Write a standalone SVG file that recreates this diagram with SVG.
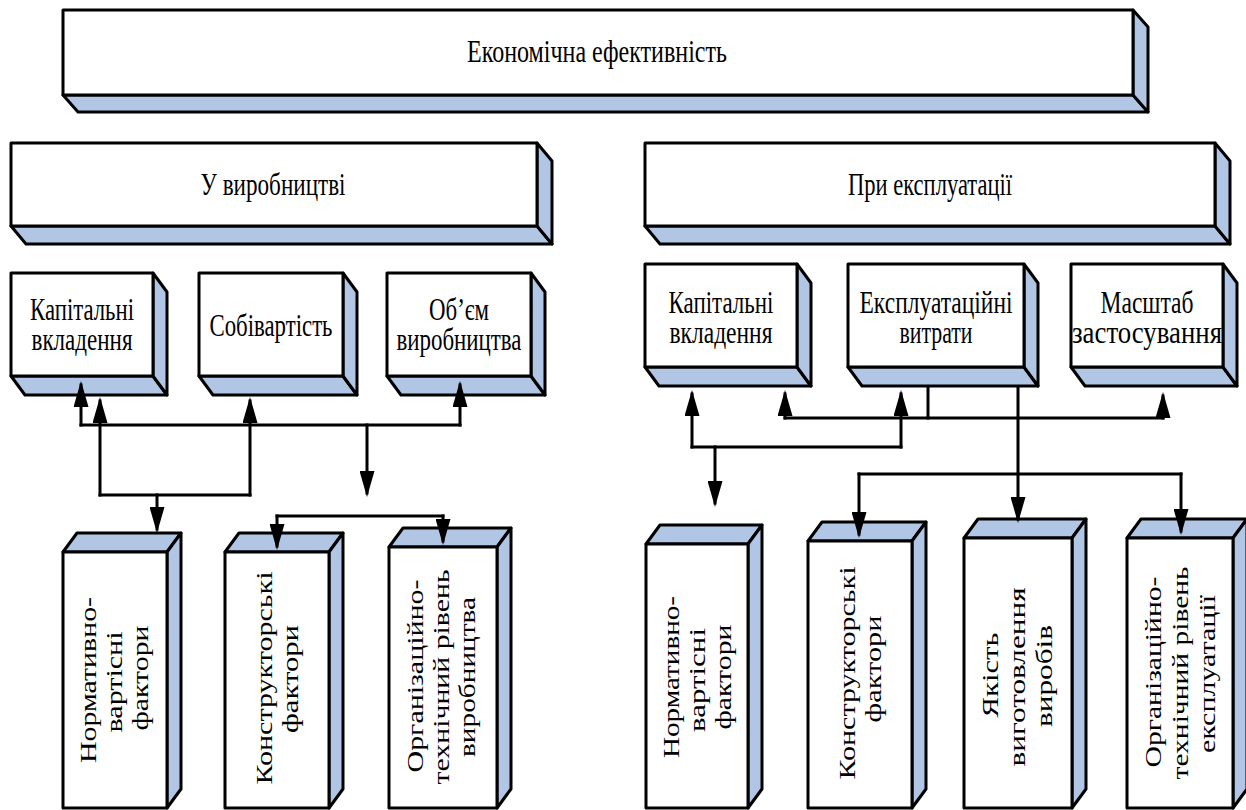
<svg xmlns="http://www.w3.org/2000/svg" width="1246" height="810" viewBox="0 0 1246 810">
<style>
.f{fill:#fff;stroke:#000;stroke-width:3;stroke-linejoin:round}
.s{fill:#b0c6e4;stroke:#000;stroke-width:3;stroke-linejoin:round}
.t{font-family:"Liberation Serif","Times New Roman",serif;font-size:31px;text-anchor:middle;fill:#000}
.r{font-size:24px}
.c{fill:none;stroke:#000;stroke-width:3;stroke-linecap:square}
.a{marker-end:url(#ah)}
</style>
<defs>
<marker id="ah" viewBox="0 0 26 15" refX="22" refY="7.5" markerWidth="26" markerHeight="15" markerUnits="userSpaceOnUse" orient="auto">
<path d="M0,0 L26,7.5 L0,15 Z" fill="#000"/>
</marker>
</defs>
<rect width="1246" height="810" fill="#fff"/>

<g id="top">
<polygon class="s" points="63,95 1133,95 1148,112 78,112"/>
<polygon class="s" points="1133,10 1148,27 1148,112 1133,95"/>
<rect class="f" x="63" y="10" width="1070" height="85"/>
<text class="t" x="597" y="62" textLength="260" lengthAdjust="spacingAndGlyphs">Економічна ефективність</text>
</g>

<g id="prod">
<polygon class="s" points="11,226 537,226 552,244 26,244"/>
<polygon class="s" points="537,143 552,161 552,244 537,226"/>
<rect class="f" x="11" y="143" width="526" height="83"/>
<text class="t" x="273" y="195" textLength="145" lengthAdjust="spacingAndGlyphs">У виробництві</text>
</g>

<g id="expl">
<polygon class="s" points="645,226 1215,226 1230,244 660,244"/>
<polygon class="s" points="1215,143 1230,161 1230,244 1215,226"/>
<rect class="f" x="645" y="143" width="570" height="83"/>
<text class="t" x="930" y="195" textLength="164" lengthAdjust="spacingAndGlyphs">При експлуатації</text>
</g>

<g id="l-cap">
<polygon class="s" points="11,376 153,376 167,395 25,395"/>
<polygon class="s" points="153,273 167,292 167,395 153,376"/>
<rect class="f" x="11" y="273" width="142" height="103"/>
<text class="t" x="82" y="320" textLength="104" lengthAdjust="spacingAndGlyphs">Капітальні</text>
<text class="t" x="82" y="350" textLength="101" lengthAdjust="spacingAndGlyphs">вкладення</text>
</g>

<g id="l-cost">
<polygon class="s" points="199,376 343,376 357,395 213,395"/>
<polygon class="s" points="343,273 357,292 357,395 343,376"/>
<rect class="f" x="199" y="273" width="144" height="103"/>
<text class="t" x="271" y="336" textLength="123" lengthAdjust="spacingAndGlyphs">Собівартість</text>
</g>

<g id="l-vol">
<polygon class="s" points="387,376 531,376 545,395 401,395"/>
<polygon class="s" points="531,273 545,292 545,395 531,376"/>
<rect class="f" x="387" y="273" width="144" height="103"/>
<text class="t" x="459" y="320" textLength="60" lengthAdjust="spacingAndGlyphs">Об’єм</text>
<text class="t" x="459" y="350" textLength="125" lengthAdjust="spacingAndGlyphs">виробництва</text>
</g>

<g id="r-cap">
<polygon class="s" points="645,367 797,367 811,386 659,386"/>
<polygon class="s" points="797,264 811,283 811,386 797,367"/>
<rect class="f" x="645" y="264" width="152" height="103"/>
<text class="t" x="721" y="313" textLength="105" lengthAdjust="spacingAndGlyphs">Капітальні</text>
<text class="t" x="721" y="343" textLength="103" lengthAdjust="spacingAndGlyphs">вкладення</text>
</g>

<g id="r-exp">
<polygon class="s" points="848,367 1024,367 1038,386 862,386"/>
<polygon class="s" points="1024,264 1038,283 1038,386 1024,367"/>
<rect class="f" x="848" y="264" width="176" height="103"/>
<text class="t" x="936" y="313" textLength="153" lengthAdjust="spacingAndGlyphs">Експлуатаційні</text>
<text class="t" x="936" y="343" textLength="73" lengthAdjust="spacingAndGlyphs">витрати</text>
</g>

<g id="r-scale">
<polygon class="s" points="1071,367 1223,367 1237,386 1085,386"/>
<polygon class="s" points="1223,264 1237,283 1237,386 1223,367"/>
<rect class="f" x="1071" y="264" width="152" height="103"/>
<text class="t" x="1147" y="313" textLength="93" lengthAdjust="spacingAndGlyphs">Масштаб</text>
<text class="t" x="1147" y="343" textLength="150" lengthAdjust="spacingAndGlyphs">застосування</text>
</g>

<g id="lb-norm">
<polygon class="s" points="63,552 77,533 181,533 167,552"/>
<polygon class="s" points="167,552 181,533 181,789 167,808"/>
<rect class="f" x="63" y="552" width="104" height="256"/>
<g transform="rotate(-90)">
<text class="t r" x="-680" y="96" textLength="166" lengthAdjust="spacingAndGlyphs">Нормативно-</text>
<text class="t r" x="-682" y="122" textLength="101" lengthAdjust="spacingAndGlyphs">вартісні</text>
<text class="t r" x="-678" y="148" textLength="105" lengthAdjust="spacingAndGlyphs">фактори</text>
</g>
</g>

<g id="lb-constr">
<polygon class="s" points="225,552 239,533 343,533 329,552"/>
<polygon class="s" points="329,552 343,533 343,789 329,808"/>
<rect class="f" x="225" y="552" width="104" height="256"/>
<g transform="rotate(-90)">
<text class="t r" x="-678" y="272" textLength="213" lengthAdjust="spacingAndGlyphs">Конструкторські</text>
<text class="t r" x="-679" y="298" textLength="108" lengthAdjust="spacingAndGlyphs">фактори</text>
</g>
</g>

<g id="lb-org">
<polygon class="s" points="389,547 403,528 511,528 497,547"/>
<polygon class="s" points="497,547 511,528 511,789 497,808"/>
<rect class="f" x="389" y="547" width="108" height="261"/>
<g transform="rotate(-90)">
<text class="t r" x="-676" y="423" textLength="193" lengthAdjust="spacingAndGlyphs">Організаційно-</text>
<text class="t r" x="-677" y="449" textLength="215" lengthAdjust="spacingAndGlyphs">технічний рівень</text>
<text class="t r" x="-677" y="475" textLength="160" lengthAdjust="spacingAndGlyphs">виробництва</text>
</g>
</g>

<g id="rb-norm">
<polygon class="s" points="646,544 660,525 762,525 748,544"/>
<polygon class="s" points="748,544 762,525 762,789 748,808"/>
<rect class="f" x="646" y="544" width="102" height="264"/>
<g transform="rotate(-90)">
<text class="t r" x="-677" y="679" textLength="162" lengthAdjust="spacingAndGlyphs">Нормативно-</text>
<text class="t r" x="-680" y="705" textLength="104" lengthAdjust="spacingAndGlyphs">вартісні</text>
<text class="t r" x="-677" y="731" textLength="105" lengthAdjust="spacingAndGlyphs">фактори</text>
</g>
</g>

<g id="rb-constr">
<polygon class="s" points="808,541 822,522 926,522 912,541"/>
<polygon class="s" points="912,541 926,522 926,789 912,808"/>
<rect class="f" x="808" y="541" width="104" height="267"/>
<g transform="rotate(-90)">
<text class="t r" x="-673" y="855" textLength="213" lengthAdjust="spacingAndGlyphs">Конструкторські</text>
<text class="t r" x="-669" y="881" textLength="107" lengthAdjust="spacingAndGlyphs">фактори</text>
</g>
</g>

<g id="rb-qual">
<polygon class="s" points="964,538 978,519 1086,519 1072,538"/>
<polygon class="s" points="1072,538 1086,519 1086,789 1072,808"/>
<rect class="f" x="964" y="538" width="108" height="270"/>
<g transform="rotate(-90)">
<text class="t r" x="-675" y="998" textLength="85" lengthAdjust="spacingAndGlyphs">Якість</text>
<text class="t r" x="-677" y="1025" textLength="179" lengthAdjust="spacingAndGlyphs">виготовлення</text>
<text class="t r" x="-676" y="1052" textLength="102" lengthAdjust="spacingAndGlyphs">виробів</text>
</g>
</g>

<g id="rb-org">
<polygon class="s" points="1127,538 1141,519 1247,519 1233,538"/>
<polygon class="s" points="1233,538 1247,519 1247,789 1233,808"/>
<rect class="f" x="1127" y="538" width="106" height="270"/>
<g transform="rotate(-90)">
<text class="t r" x="-672" y="1161" textLength="191" lengthAdjust="spacingAndGlyphs">Організаційно-</text>
<text class="t r" x="-673" y="1188" textLength="213" lengthAdjust="spacingAndGlyphs">технічний рівень</text>
<text class="t r" x="-674" y="1215" textLength="158" lengthAdjust="spacingAndGlyphs">експлуатації</text>
</g>
</g>

<g id="connectors">
<path class="c" d="M81,425 H460"/>
<path class="c a" d="M81,425 V385"/>
<path class="c a" d="M460,425 V385"/>
<path class="c" d="M100,495 H250"/>
<path class="c a" d="M100,495 V401"/>
<path class="c a" d="M250,495 V401"/>
<path class="c a" d="M157,495 V529"/>
<path class="c a" d="M367,425 V493"/>
<path class="c" d="M277,516 H443"/>
<path class="c a" d="M277,516 V546"/>
<path class="c a" d="M443,516 V541"/>
<path class="c" d="M692,447 H901"/>
<path class="c a" d="M692,447 V394"/>
<path class="c a" d="M901,447 V394"/>
<path class="c a" d="M715,447 V503"/>
<path class="c" d="M785,418 H1163"/>
<path class="c a" d="M785,418 V394"/>
<path class="c a" d="M1163,418 V396"/>
<path class="c" d="M928,387 V418"/>
<path class="c a" d="M1018,387 V519"/>
<path class="c" d="M859,474 H1181"/>
<path class="c a" d="M859,474 V534"/>
<path class="c a" d="M1181,474 V531"/>
</g>
</svg>
